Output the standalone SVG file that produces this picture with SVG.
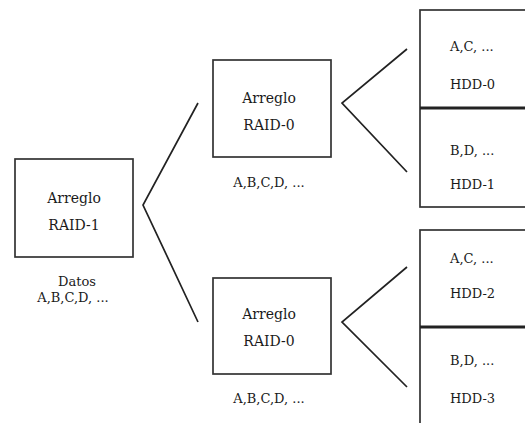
<svg xmlns="http://www.w3.org/2000/svg" width="525" height="423" viewBox="0 0 525 423">
<style>
.box{fill:#fff;stroke:#333;stroke-width:1.7}
.div{stroke:#222;stroke-width:3}
.ln{fill:none;stroke:#222;stroke-width:1.7}
text{font-family:"DejaVu Serif","Liberation Serif",serif;font-size:14px;fill:#1a1a1a}
.c{text-anchor:middle}
.s{font-size:13px}
</style>
<rect width="525" height="423" fill="#fff"/>
<g id="connectors">
<polyline class="ln" points="198,103 143,205 198,322"/>
<polyline class="ln" points="407,49 342,103 407,172"/>
<polyline class="ln" points="407,267 342,322 407,387"/>
</g>
<g id="raid1">
<rect class="box" x="15" y="159" width="118" height="98"/>
<text class="c" x="74" y="203">Arreglo</text>
<text class="c" x="74" y="230">RAID-1</text>
<text class="c s" x="77" y="286">Datos</text>
<text class="c s" x="73" y="302">A,B,C,D, ...</text>
</g>
<g id="raid0-top">
<rect class="box" x="213" y="60" width="118" height="97"/>
<text class="c" x="269" y="103">Arreglo</text>
<text class="c" x="269" y="130">RAID-0</text>
<text class="c s" x="269" y="187">A,B,C,D, ...</text>
</g>
<g id="raid0-bottom">
<rect class="box" x="213" y="278" width="118" height="96"/>
<text class="c" x="269" y="319">Arreglo</text>
<text class="c" x="269" y="346">RAID-0</text>
<text class="c s" x="269" y="403">A,B,C,D, ...</text>
</g>
<g id="hdd-top">
<rect class="box" x="420" y="10" width="110" height="197"/>
<line class="div" x1="420" y1="108" x2="525" y2="108"/>
<text class="s" x="450" y="51">A,C, ...</text>
<text class="s" x="450" y="89">HDD-0</text>
<text class="s" x="450" y="155">B,D, ...</text>
<text class="s" x="450" y="189">HDD-1</text>
</g>
<g id="hdd-bottom">
<rect class="box" x="420" y="230" width="110" height="200"/>
<line class="div" x1="420" y1="327" x2="525" y2="327"/>
<text class="s" x="450" y="263">A,C, ...</text>
<text class="s" x="450" y="298">HDD-2</text>
<text class="s" x="450" y="365">B,D, ...</text>
<text class="s" x="450" y="403">HDD-3</text>
</g>
</svg>
